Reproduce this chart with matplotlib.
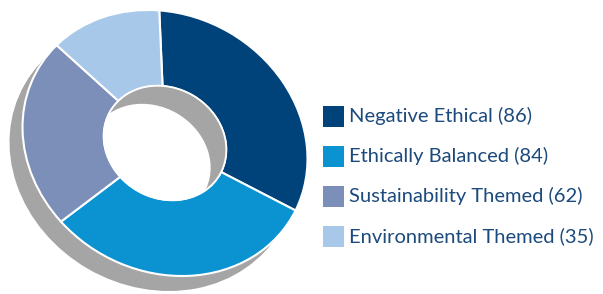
import matplotlib
matplotlib.use('Agg')
import numpy as np
from matplotlib import pyplot as plt
from matplotlib.patches import Ellipse, Rectangle
from matplotlib.transforms import Affine2D

labels = ['Negative Ethical', 'Ethically Balanced', 'Sustainability Themed', 'Environmental Themed']
counts = [86, 84, 62, 35]
colors = ['#00427a', '#0b93d1', '#7b8fb9', '#a7c8e8']

W, H = 603, 294
cx, cy = 165, 151          # centre of the top face (pixels, y up)
rx, ry, tilt = 147, 128, -30
hole = 0.43
depth = (-13, -15)         # how far the side wall drops
wall = '#a5a5a5'

fig = plt.figure(figsize=(W / 100., H / 100.), dpi=100)
ax = fig.add_axes([0, 0, 1, 1])

# side wall: sweep the outer ellipse down along the depth vector
for t in np.linspace(0, 1, 15):
    ax.add_patch(Ellipse((cx + depth[0] * t, cy + depth[1] * t), 2 * rx, 2 * ry,
                         angle=tilt, color=wall, lw=0))

wedges, _ = ax.pie(counts, colors=colors, startangle=119, counterclock=False,
                   radius=1, wedgeprops=dict(width=1 - hole, edgecolor='white', linewidth=1.5))
face = Affine2D().scale(rx, ry).rotate_deg(tilt).translate(cx, cy) + ax.transData
for w in wedges:
    w.set_transform(face)

# hole: inner wall in grey, see-through part in white
top_hole = Ellipse((cx, cy), 2 * rx * hole, 2 * ry * hole, angle=tilt,
                   facecolor=wall, edgecolor='white', lw=1.2)
ax.add_patch(top_hole)
through = Ellipse((cx + depth[0] * 1.2, cy + depth[1] * 1.2), 2 * rx * hole, 2 * ry * hole,
                  angle=tilt, color='white', lw=0)
ax.add_patch(through)
through.set_clip_path(top_hole)

# legend
for i, (lab, n, c) in enumerate(zip(labels, counts, colors)):
    y = H - 116 - i * 40
    ax.add_patch(Rectangle((323, y - 10.5), 21, 21, color=c, lw=0))
    ax.text(349, y, '%s (%d)' % (lab, n), fontsize=14.5, family='Lato',
            color='#1c4a7c', va='center', ha='left')

ax.set_aspect('auto')
ax.set_xlim(0, W)
ax.set_ylim(0, H)
ax.axis('off')
fig.savefig('out.png', dpi=100)
